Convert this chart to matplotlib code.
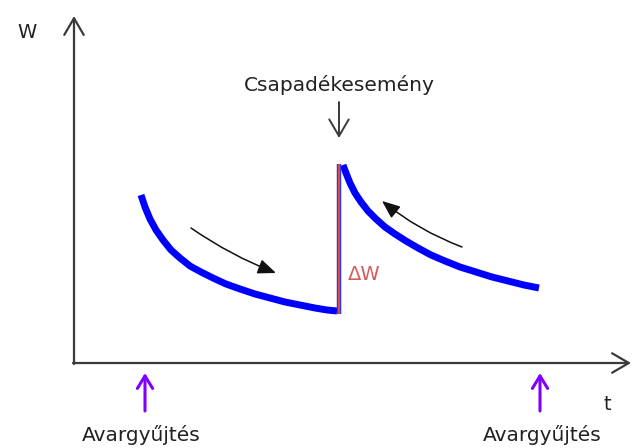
import matplotlib.pyplot as plt

# schematic drawn in pixel space (x right, y down), 632 x 448
# W(t) before the rain event: soil water falls off
before_t = [141, 145, 150, 156, 163, 171, 180, 190, 201, 213, 226, 240,
            255, 270, 285, 300, 315, 327, 337]
before_w = [195, 207, 219, 230, 240, 250, 258, 266, 272, 278, 284, 289,
            294, 298, 302, 305, 308, 310, 311]
# jump at the rain event
jump_t = [339, 339]
jump_w = [314, 164]
# after the rain event
after_t = [343, 346, 350, 355, 361, 368, 376, 385, 395, 406, 418, 431,
           445, 460, 476, 492, 508, 524, 539]
after_w = [165, 173, 183, 193, 202, 211, 219, 227, 234, 241, 248, 255,
           261, 267, 272, 277, 281, 285, 288]

collect_t = [145, 540]          # Avargyűjtés (litter collection) dates
event_t = 339                   # Csapadékesemény (rain event)

fig = plt.figure(figsize=(6.32, 4.48), dpi=100)
ax = fig.add_axes([0, 0, 1, 1])
ax.set_xlim(0, 632)
ax.set_ylim(448, 0)
ax.axis('off')

axis_col = '#3a3a3a'
head = '->,head_length=1.2,head_width=0.7'
# axes with open arrow heads
ax.annotate('', xy=(74, 16), xytext=(74, 364),
            arrowprops=dict(arrowstyle=head, color=axis_col, lw=1.6,
                            shrinkA=0, shrinkB=0))
ax.annotate('', xy=(631, 363), xytext=(73, 363),
            arrowprops=dict(arrowstyle=head, color=axis_col, lw=1.6,
                            shrinkA=0, shrinkB=0))
ax.text(27, 38, 'W', fontsize=14, ha='center', va='baseline', color='#222222')
ax.text(607, 410, 't', fontsize=14, ha='center', va='baseline', color='#222222')

# the W curve
ax.plot(before_t, before_w, color='#0000ff', lw=5, solid_capstyle='butt',
        solid_joinstyle='round')
ax.plot(after_t, after_w, color='#0000ff', lw=5, solid_capstyle='butt',
        solid_joinstyle='round')
ax.plot(jump_t, jump_w, color='#3030ff', lw=3.2, solid_capstyle='butt')
ax.plot(jump_t, jump_w, color='#e0502a', lw=1.4, solid_capstyle='butt')
ax.text(348, 280, 'ΔW', fontsize=14, color='#d65a5a', ha='left', va='baseline')

# direction arrows along the curve
ax.annotate('', xy=(276, 273), xytext=(191, 228),
            arrowprops=dict(arrowstyle='-|>,head_length=1.1,head_width=0.45',
                            color='#111111', lw=1.1, shrinkA=0, shrinkB=0,
                            connectionstyle='arc3,rad=0.06'))
ax.annotate('', xy=(382, 201), xytext=(462, 247),
            arrowprops=dict(arrowstyle='-|>,head_length=1.1,head_width=0.45',
                            color='#111111', lw=1.1, shrinkA=0, shrinkB=0,
                            connectionstyle='arc3,rad=-0.08'))

# rain event
ax.text(event_t, 91, 'Csapadékesemény', fontsize=14.5, ha='center',
        va='baseline', color='#222222')
ax.annotate('', xy=(event_t, 138), xytext=(event_t, 102),
            arrowprops=dict(arrowstyle=head, color=axis_col, lw=1.4,
                            shrinkA=0, shrinkB=0))

# litter collection
for tc in collect_t:
    ax.annotate('', xy=(tc, 373), xytext=(tc, 411),
                arrowprops=dict(arrowstyle='->,head_length=0.9,head_width=0.55',
                                color='#8000ff', lw=2.2, shrinkA=0, shrinkB=0))
    ax.text(tc - 4 if tc < 300 else tc + 2, 441, 'Avargyűjtés', fontsize=14.5,
            ha='center', va='baseline', color='#222222')

fig.savefig('out.png', dpi=100)
